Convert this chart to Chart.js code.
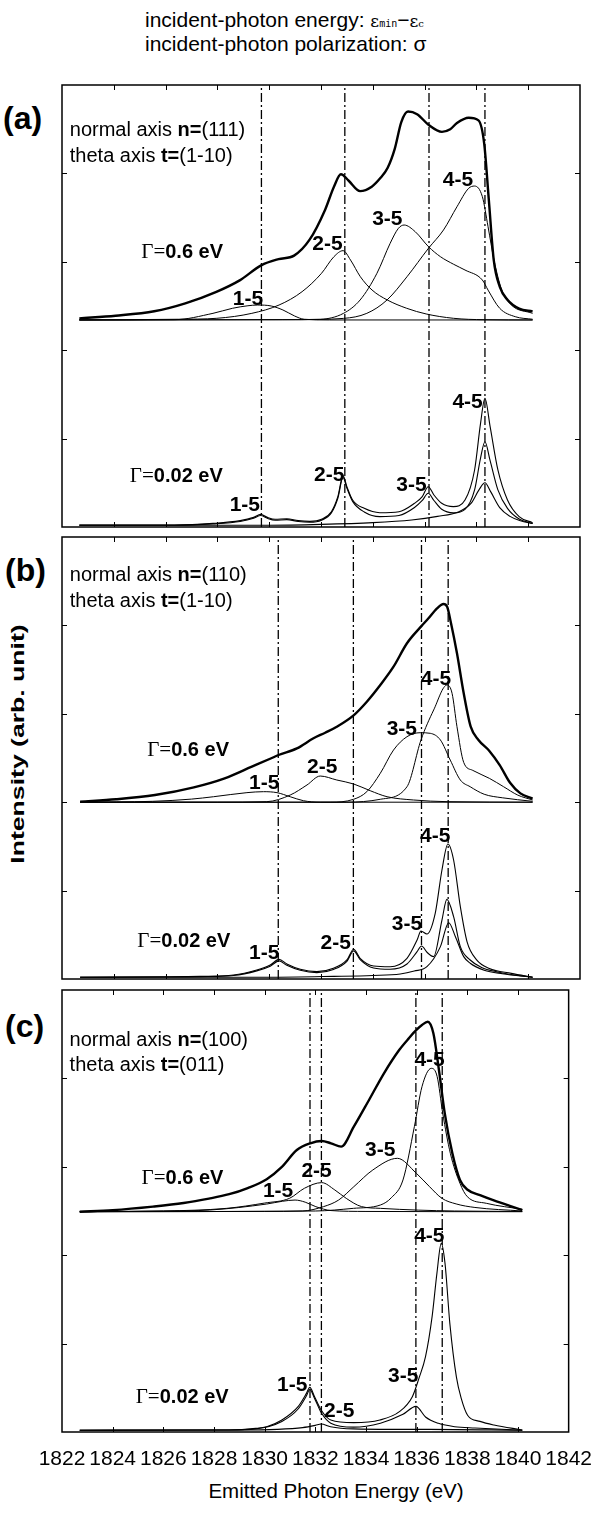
<!DOCTYPE html>
<html><head><meta charset="utf-8">
<script src="https://cdn.jsdelivr.net/npm/chart.js@4.4.1/dist/chart.umd.min.js"></script>
<style>
html,body{margin:0;padding:0;background:#fff;}
body{width:607px;height:1514px;position:relative;overflow:hidden;font-family:"Liberation Sans",Arial,sans-serif;color:#000;}
canvas{position:absolute;left:0;}
.t{position:absolute;white-space:nowrap;line-height:24px;}
</style></head><body>
<div class="t" style="left:145px;top:8px;font-size:21px;">incident-photon energy: <span style="font-family:'DejaVu Serif';font-size:17px;">ε</span><span style="font-family:'DejaVu Sans Mono';font-size:10px;">min</span>−<span style="font-family:'DejaVu Serif';font-size:17px;">ε</span><span style="font-family:'DejaVu Serif';font-size:10px;">c</span></div>
<div class="t" style="left:145px;top:32px;font-size:21px;">incident-photon polarization: σ</div>
<div class="t" style="left:3px;top:101px;font-size:32px;line-height:34px;font-weight:bold;">(a)</div>
<div class="t" style="left:5px;top:553px;font-size:32px;line-height:34px;font-weight:bold;">(b)</div>
<div class="t" style="left:5px;top:1009px;font-size:32px;line-height:34px;font-weight:bold;">(c)</div>
<div class="t" style="left:18px;top:744px;transform:translate(-50%,-50%) rotate(-90deg) scaleX(1.4);font-weight:bold;font-size:19px;">Intensity (arb. unit)</div>
<div class="t" style="left:336px;top:1491px;transform:translate(-50%,-50%);font-size:20.5px;">Emitted Photon Energy (eV)</div>

<canvas id="ca" width="607" height="452" style="top:80px;width:607px;height:452px;"></canvas>
<canvas id="cb" width="607" height="452" style="top:532px;width:607px;height:452px;"></canvas>
<canvas id="cc" width="607" height="529" style="top:985px;width:607px;height:529px;"></canvas>

<script>
// ---------- axes ----------
const xMin = 1822, xMax = 1842;
const xTickValues = [1822,1824,1826,1828,1830,1832,1834,1836,1838,1840,1842];
const yMin = 0, yMax = 5;
const yTickValues = [0,1,2,3,4,5];

// ---------- panel (a): n=(111), t=(1-10) ----------
const aTransitions = [1829.70, 1832.92, 1836.17, 1838.33];
const aBroadTotal = [[1822.67,2.36],[1824.07,2.39],[1825.56,2.44],[1826.76,2.53],[1827.96,2.66],[1828.86,2.79],[1829.69,2.96],[1830.36,3.03],[1830.96,3.07],[1831.56,3.25],[1832.16,3.59],[1832.5,3.85],[1832.77,3.99],[1833.06,3.92],[1833.51,3.80],[1833.96,3.85],[1834.3,3.95],[1834.57,4.06],[1834.85,4.28],[1835.1,4.58],[1835.36,4.70],[1835.71,4.67],[1836.15,4.55],[1836.67,4.47],[1836.99,4.50],[1837.25,4.57],[1837.70,4.63],[1838.08,4.60],[1838.3,4.34],[1838.48,3.70],[1838.67,3.02],[1838.9,2.72],[1839.2,2.57],[1839.65,2.47],[1840.17,2.44]];
const aBroad15 = [[1822.67,2.342],[1826.34,2.345],[1827.83,2.417],[1828.58,2.474],[1829.18,2.503],[1829.55,2.511],[1830.08,2.50],[1830.53,2.455],[1830.98,2.387],[1831.35,2.35],[1832.32,2.342],[1840.17,2.342]];
const aBroad25 = [[1822.67,2.343],[1826.5,2.35],[1827.98,2.361],[1829.33,2.417],[1830.38,2.511],[1831.27,2.662],[1832.02,2.87],[1832.50,3.058],[1832.85,3.126],[1833.14,3.02],[1833.52,2.831],[1833.97,2.681],[1834.56,2.568],[1835.31,2.474],[1836.06,2.41],[1837.11,2.361],[1838.3,2.345],[1840.17,2.342]];
const aBroad35 = [[1822.67,2.342],[1830.5,2.345],[1831.97,2.35],[1832.87,2.417],[1833.51,2.568],[1834.16,2.87],[1834.67,3.209],[1834.99,3.379],[1835.21,3.416],[1835.64,3.34],[1836.15,3.171],[1836.61,3.058],[1837.12,2.972],[1837.56,2.907],[1838.23,2.794],[1838.45,2.68],[1838.9,2.474],[1839.5,2.379],[1840.17,2.35]];
const aBroad45 = [[1822.67,2.342],[1831,2.345],[1832.87,2.36],[1833.77,2.417],[1834.55,2.568],[1835.32,2.831],[1836.15,3.153],[1836.73,3.36],[1837.25,3.623],[1837.70,3.831],[1837.93,3.857],[1838.23,3.737],[1838.45,3.397],[1838.68,3.02],[1838.98,2.681],[1839.35,2.511],[1840.17,2.417]];
const aNarrowTotal = [[1822.67,0.023],[1824.09,0.023],[1826.34,0.023],[1827.83,0.041],[1828.88,0.072],[1829.40,0.109],[1829.67,0.143],[1829.93,0.109],[1830.23,0.087],[1830.68,0.094],[1831.12,0.072],[1831.57,0.064],[1832.02,0.087],[1832.40,0.173],[1832.65,0.343],[1832.85,0.581],[1833.0,0.456],[1833.22,0.305],[1833.67,0.211],[1834.27,0.162],[1835.01,0.173],[1835.61,0.268],[1835.91,0.343],[1836.14,0.456],[1836.36,0.362],[1836.66,0.268],[1837.11,0.230],[1837.56,0.305],[1837.93,0.645],[1838.16,1.173],[1838.33,1.456],[1838.53,1.135],[1838.83,0.645],[1839.2,0.305],[1839.65,0.117],[1840.17,0.049]];
const aNarrowMid = [[1822.67,0.02],[1826.34,0.02],[1827.83,0.035],[1828.88,0.062],[1829.40,0.098],[1829.67,0.13],[1829.93,0.098],[1830.23,0.077],[1830.68,0.083],[1831.12,0.062],[1831.57,0.054],[1832.02,0.077],[1832.40,0.16],[1832.65,0.325],[1832.85,0.56],[1833.0,0.44],[1833.22,0.29],[1833.67,0.17],[1834.27,0.117],[1835.01,0.13],[1835.61,0.22],[1835.91,0.30],[1836.14,0.381],[1836.36,0.30],[1836.66,0.2],[1837.11,0.16],[1837.56,0.2],[1837.93,0.42],[1838.16,0.78],[1838.33,0.965],[1838.53,0.75],[1838.83,0.42],[1839.2,0.21],[1839.65,0.09],[1840.17,0.04]];
const aNarrowLow = [[1822.67,0.02],[1830,0.02],[1832,0.03],[1834,0.05],[1835.5,0.08],[1836.5,0.12],[1837.3,0.17],[1837.8,0.27],[1838.1,0.42],[1838.33,0.50],[1838.55,0.40],[1838.9,0.22],[1839.3,0.12],[1839.7,0.07],[1840.17,0.04]];

// ---------- panel (b): n=(110), t=(1-10) ----------
const bTransitions = [1830.35, 1833.25, 1835.88, 1836.91];
const bBroadTotal = [[1822.70,2.006],[1824.09,2.033],[1825.59,2.081],[1827.09,2.168],[1828.28,2.27],[1829.33,2.402],[1830.08,2.497],[1830.36,2.534],[1831.07,2.609],[1831.71,2.723],[1832.16,2.786],[1832.61,2.854],[1833.27,2.986],[1833.77,3.137],[1834.29,3.326],[1834.80,3.533],[1835.32,3.798],[1835.86,3.986],[1836.15,4.08],[1836.48,4.193],[1836.73,4.242],[1836.87,4.212],[1837.02,4.024],[1837.25,3.684],[1837.51,3.232],[1837.78,2.854],[1838.08,2.704],[1838.5,2.58],[1838.9,2.42],[1839.3,2.22],[1839.7,2.10],[1840.17,2.04]];
const bBroad15 = [[1822.70,2.0],[1825.5,2.01],[1827.0,2.035],[1827.85,2.062],[1829.14,2.108],[1829.78,2.119],[1830.30,2.108],[1830.81,2.062],[1831.32,2.017],[1831.97,2.0],[1840.17,2.0]];
const bBroad25 = [[1822.70,2.0],[1828,2.0],[1829.91,2.006],[1830.81,2.081],[1831.46,2.195],[1831.97,2.296],[1832.61,2.251],[1833.26,2.206],[1833.90,2.13],[1834.55,2.062],[1835.57,2.025],[1836.87,2.006],[1840.17,2.0]];
const bBroad35 = [[1822.70,2.0],[1832.36,2.0],[1833.26,2.033],[1833.77,2.119],[1834.29,2.327],[1834.80,2.59],[1835.32,2.741],[1835.83,2.786],[1836.22,2.779],[1836.61,2.704],[1836.99,2.477],[1837.38,2.251],[1837.76,2.175],[1838.3,2.09],[1839,2.05],[1840.17,2.01]];
const bBroad45 = [[1822.70,2.0],[1833,2.0],[1834.29,2.033],[1835.32,2.175],[1835.86,2.704],[1836.35,3.043],[1836.87,3.326],[1837.06,3.232],[1837.25,2.854],[1837.51,2.45],[1837.86,2.36],[1838.5,2.27],[1839.05,2.175],[1839.6,2.08],[1840.17,2.025]];
const bNarrowTotal = [[1822.7,0.02],[1826,0.025],[1827.33,0.03],[1828.62,0.045],[1829.52,0.102],[1830.04,0.158],[1830.38,0.222],[1830.68,0.17],[1831.2,0.11],[1831.84,0.083],[1832.48,0.121],[1833.0,0.215],[1833.26,0.336],[1833.51,0.234],[1834.03,0.147],[1834.67,0.139],[1835.32,0.234],[1835.71,0.441],[1835.86,0.543],[1836.09,0.509],[1836.41,0.743],[1836.67,1.233],[1836.90,1.527],[1837.12,1.346],[1837.38,0.818],[1837.64,0.42],[1838.0,0.22],[1838.5,0.12],[1839.35,0.064],[1840.17,0.02]];
const bNarrowMid = [[1822.7,0.02],[1826,0.022],[1827.33,0.027],[1828.62,0.04],[1829.52,0.092],[1830.04,0.145],[1830.38,0.205],[1830.68,0.155],[1831.2,0.098],[1831.84,0.072],[1832.48,0.108],[1833.0,0.2],[1833.26,0.318],[1833.51,0.22],[1834.03,0.125],[1834.67,0.11],[1835.32,0.17],[1835.71,0.309],[1835.88,0.373],[1836.1,0.3],[1836.35,0.253],[1836.67,0.667],[1836.86,0.901],[1837.12,0.705],[1837.38,0.366],[1837.76,0.215],[1838.2,0.13],[1838.8,0.08],[1839.5,0.045],[1840.17,0.02]];
const bNarrowLow = [[1822.7,0.02],[1830,0.02],[1832.5,0.03],[1834,0.04],[1835.06,0.057],[1835.6,0.09],[1836.09,0.139],[1836.61,0.366],[1836.93,0.637],[1837.19,0.479],[1837.51,0.253],[1837.76,0.178],[1838.3,0.1],[1839,0.06],[1840.17,0.02]];

// ---------- panel (c): n=(100), t=(011) ----------
const cTransitions = [1831.79, 1832.24, 1835.97, 1837.01];
const cBroadTotal = [[1822.70,2.492],[1824.0,2.51],[1825.59,2.55],[1826.8,2.59],[1827.8,2.64],[1828.6,2.69],[1829.33,2.76],[1830.08,2.86],[1830.68,3.0],[1831.27,3.19],[1831.80,3.266],[1832.25,3.292],[1832.62,3.266],[1833.02,3.228],[1833.52,3.454],[1834.12,3.756],[1834.71,4.058],[1835.31,4.321],[1835.69,4.453],[1835.99,4.548],[1836.21,4.604],[1836.44,4.641],[1836.66,4.51],[1836.88,4.095],[1837.11,3.605],[1837.41,3.152],[1837.71,2.851],[1838.01,2.74],[1838.5,2.68],[1839.05,2.62],[1839.65,2.56],[1840.17,2.51]];
const cBroad15 = [[1822.70,2.492],[1826,2.5],[1827.83,2.511],[1830.08,2.579],[1830.7,2.61],[1831.2,2.624],[1831.6,2.6],[1832.02,2.549],[1832.62,2.505],[1834,2.495],[1840.17,2.492]];
const cBroad25 = [[1822.70,2.492],[1826,2.5],[1828.5,2.53],[1830.0,2.59],[1830.98,2.643],[1831.57,2.757],[1832.25,2.821],[1832.77,2.738],[1833.22,2.643],[1833.82,2.55],[1834.57,2.53],[1836.06,2.51],[1837.5,2.5],[1840.17,2.495]];
const cBroad35 = [[1822.70,2.492],[1830,2.495],[1831.5,2.5],[1832.32,2.549],[1832.92,2.624],[1833.52,2.775],[1834.27,2.964],[1835.24,3.096],[1835.99,2.926],[1836.51,2.775],[1837.0,2.643],[1837.56,2.58],[1838.30,2.54],[1840.17,2.5]];
const cBroad45 = [[1822.70,2.492],[1832,2.5],[1833.5,2.53],[1834.57,2.568],[1835.0,2.65],[1835.46,2.851],[1835.91,3.454],[1836.21,3.906],[1836.58,4.114],[1836.81,4.02],[1837.03,3.605],[1837.33,3.152],[1837.71,2.813],[1838.0,2.662],[1838.75,2.587],[1840.17,2.519]];
const cNarrowTotal = [[1822.70,0.02],[1827.0,0.022],[1828.58,0.023],[1829.65,0.041],[1830.08,0.06],[1830.68,0.136],[1831.32,0.287],[1831.65,0.437],[1831.78,0.505],[1831.97,0.4],[1832.23,0.249],[1832.61,0.136],[1833.51,0.106],[1834.55,0.136],[1835.32,0.23],[1835.83,0.4],[1836.09,0.607],[1836.35,0.852],[1836.61,1.305],[1836.80,1.795],[1836.97,2.134],[1837.12,1.908],[1837.31,1.229],[1837.57,0.62],[1837.76,0.38],[1838.01,0.19],[1838.5,0.12],[1839.05,0.079],[1840.17,0.023]];
const cNarrowMid = [[1822.70,0.02],[1828.58,0.022],[1829.65,0.035],[1830.68,0.12],[1831.32,0.26],[1831.65,0.41],[1831.78,0.48],[1831.97,0.38],[1832.23,0.22],[1832.61,0.1],[1833.51,0.055],[1834.57,0.1],[1835.46,0.2],[1835.97,0.29],[1836.35,0.17],[1836.86,0.098],[1837.5,0.06],[1838.3,0.045],[1840.17,0.02]];
const cNarrowLow = [[1822.70,0.02],[1829,0.022],[1830.5,0.03],[1831.5,0.05],[1832.0,0.075],[1832.23,0.09],[1832.6,0.06],[1833.5,0.035],[1835,0.03],[1836.5,0.03],[1840.17,0.02]];

// ---------- text annotations (anchored in data units) ----------
const aNotes = [
  {x:1822.30, y:4.49, parts:[["normal axis ","n"],["n=","b"],["(111)","n"]]},
  {x:1822.30, y:4.19, parts:[["theta axis ","n"],["t=","b"],["(1-10)","n"]]},
  {x:1825.06, y:3.11, parts:[["Γ=","s"],["0.6 eV","b"]]},
  {x:1829.18, y:2.58, text:"1-5"},{x:1832.25, y:3.20, text:"2-5"},{x:1834.56, y:3.48, text:"3-5"},{x:1837.29, y:3.92, text:"4-5"},
  {x:1824.62, y:0.57, parts:[["Γ=","s"],["0.02 eV","b"]]},
  {x:1829.06, y:0.25, text:"1-5"},{x:1832.32, y:0.59, text:"2-5"},{x:1835.49, y:0.47, text:"3-5"},{x:1837.66, y:1.41, text:"4-5"}
];
const bNotes = [
  {x:1822.30, y:4.57, parts:[["normal axis ","n"],["n=","b"],["(110)","n"]]},
  {x:1822.30, y:4.27, parts:[["theta axis ","n"],["t=","b"],["(1-10)","n"]]},
  {x:1825.29, y:2.59, parts:[["Γ=","s"],["0.6 eV","b"]]},
  {x:1829.81, y:2.21, text:"1-5"},{x:1832.05, y:2.40, text:"2-5"},{x:1835.12, y:2.83, text:"3-5"},{x:1836.44, y:3.39, text:"4-5"},
  {x:1824.91, y:0.43, parts:[["Γ=","s"],["0.02 eV","b"]]},
  {x:1829.81, y:0.29, text:"1-5"},{x:1832.57, y:0.40, text:"2-5"},{x:1835.32, y:0.62, text:"3-5"},{x:1836.41, y:1.61, text:"4-5"}
];
const cNotes = [
  {x:1822.30, y:4.43, parts:[["normal axis ","n"],["n=","b"],["(100)","n"]]},
  {x:1822.30, y:4.15, parts:[["theta axis ","n"],["t=","b"],["(011)","n"]]},
  {x:1825.14, y:2.87, parts:[["Γ=","s"],["0.6 eV","b"]]},
  {x:1830.53, y:2.72, text:"1-5"},{x:1832.05, y:2.95, text:"2-5"},{x:1834.56, y:3.19, text:"3-5"},{x:1836.51, y:4.21, text:"4-5"},
  {x:1824.91, y:0.39, parts:[["Γ=","s"],["0.02 eV","b"]]},
  {x:1831.09, y:0.53, text:"1-5"},{x:1832.94, y:0.23, text:"2-5"},{x:1835.47, y:0.63, text:"3-5"},{x:1836.50, y:2.22, text:"4-5"}
];

// ---------- drawing helpers ----------
const FONTS = {
  n: '20px "Liberation Sans"',
  b: 'bold 20px "Liberation Sans"',
  s: '21px "Liberation Serif"',
  peak: 'bold 21px "Liberation Sans"'
};
function drawNote(ctx, px, py, note) {
  ctx.textBaseline = 'middle';
  ctx.fillStyle = '#000';
  if (note.text) {
    ctx.font = FONTS.peak; ctx.textAlign = 'center';
    ctx.fillText(note.text, px, py);
    return;
  }
  ctx.textAlign = 'left';
  let cx = px;
  for (const [t, st] of note.parts) {
    ctx.font = FONTS[st];
    ctx.fillText(t, cx, py);
    cx += ctx.measureText(t).width;
  }
}
function framePlugin(notes) {
  return {
    id: 'frame',
    afterDatasetsDraw(chart) {
      const {ctx, chartArea} = chart;
      const {left, right, top, bottom} = chartArea;
      const xs = chart.scales.x, ys = chart.scales.y;
      ctx.save();
      ctx.strokeStyle = '#000';
      ctx.lineWidth = 1.5;
      ctx.strokeRect(left, top, right - left, bottom - top);
      ctx.lineWidth = 1;
      ctx.beginPath();
      xTickValues.forEach(v => {
        if (v <= xMin || v >= xMax) return;
        const p = Math.round(xs.getPixelForValue(v)) + 0.5;
        ctx.moveTo(p, top); ctx.lineTo(p, top + 5);
        ctx.moveTo(p, bottom); ctx.lineTo(p, bottom - 5);
      });
      yTickValues.forEach(v => {
        if (v <= yMin || v >= yMax) return;
        const p = Math.round(ys.getPixelForValue(v)) + 0.5;
        ctx.moveTo(left, p); ctx.lineTo(left + 5, p);
        ctx.moveTo(right, p); ctx.lineTo(right - 5, p);
      });
      ctx.stroke();
      notes.forEach(n => drawNote(ctx, xs.getPixelForValue(n.x), ys.getPixelForValue(n.y), n));
      ctx.restore();
    }
  };
}
function curve(arr, width) {
  return {data: arr.map(([x, y]) => ({x, y})), borderColor: '#000', borderWidth: width,
          pointRadius: 0, fill: false, cubicInterpolationMode: 'monotone'};
}
function vline(xv) {
  return {data: [{x: xv, y: yMin}, {x: xv, y: yMax}], borderColor: '#000', borderWidth: 1.3,
          borderDash: [9, 3, 2, 3], pointRadius: 0, fill: false};
}
function makeChart(id, trans, broadTotal, broadParts, narrow, notes, showAxis) {
  const datasets = [];
  trans.forEach(t => datasets.push(vline(t)));
  broadParts.forEach(p => datasets.push(curve(p, 1)));
  narrow.forEach(p => datasets.push(curve(p, 1.1)));
  datasets.push(curve(broadTotal, 2.4));
  const xScale = {type: 'linear', min: xMin, max: xMax, display: false};
  if (showAxis) {
    Object.assign(xScale, {
      display: true,
      border: {display: false},
      grid: {display: false, drawTicks: false},
      afterBuildTicks: s => { s.ticks = xTickValues.map(v => ({value: v})); },
      afterFit: s => { s.height = 82; },
      ticks: {autoSkip: false, maxRotation: 0, minRotation: 0, padding: 15, color: '#000',
              font: {family: 'Liberation Sans', size: 21}, callback: v => String(v)}
    });
  }
  return new Chart(document.getElementById(id), {
    type: 'line',
    data: {datasets},
    options: {
      responsive: false, animation: false, events: [],
      layout: {padding: {left: 62, right: 27, top: 5, bottom: showAxis ? 0 : 5}},
      plugins: {legend: {display: false}, tooltip: {enabled: false}},
      scales: {x: xScale, y: {type: 'linear', min: yMin, max: yMax, display: false}}
    },
    plugins: [framePlugin(notes)]
  });
}
makeChart('ca', aTransitions, aBroadTotal, [aBroad15, aBroad25, aBroad35, aBroad45], [aNarrowTotal, aNarrowMid, aNarrowLow], aNotes, false);
makeChart('cb', bTransitions, bBroadTotal, [bBroad15, bBroad25, bBroad35, bBroad45], [bNarrowTotal, bNarrowMid, bNarrowLow], bNotes, false);
makeChart('cc', cTransitions, cBroadTotal, [cBroad15, cBroad25, cBroad35, cBroad45], [cNarrowTotal, cNarrowMid, cNarrowLow], cNotes, true);
</script>
</body></html>
